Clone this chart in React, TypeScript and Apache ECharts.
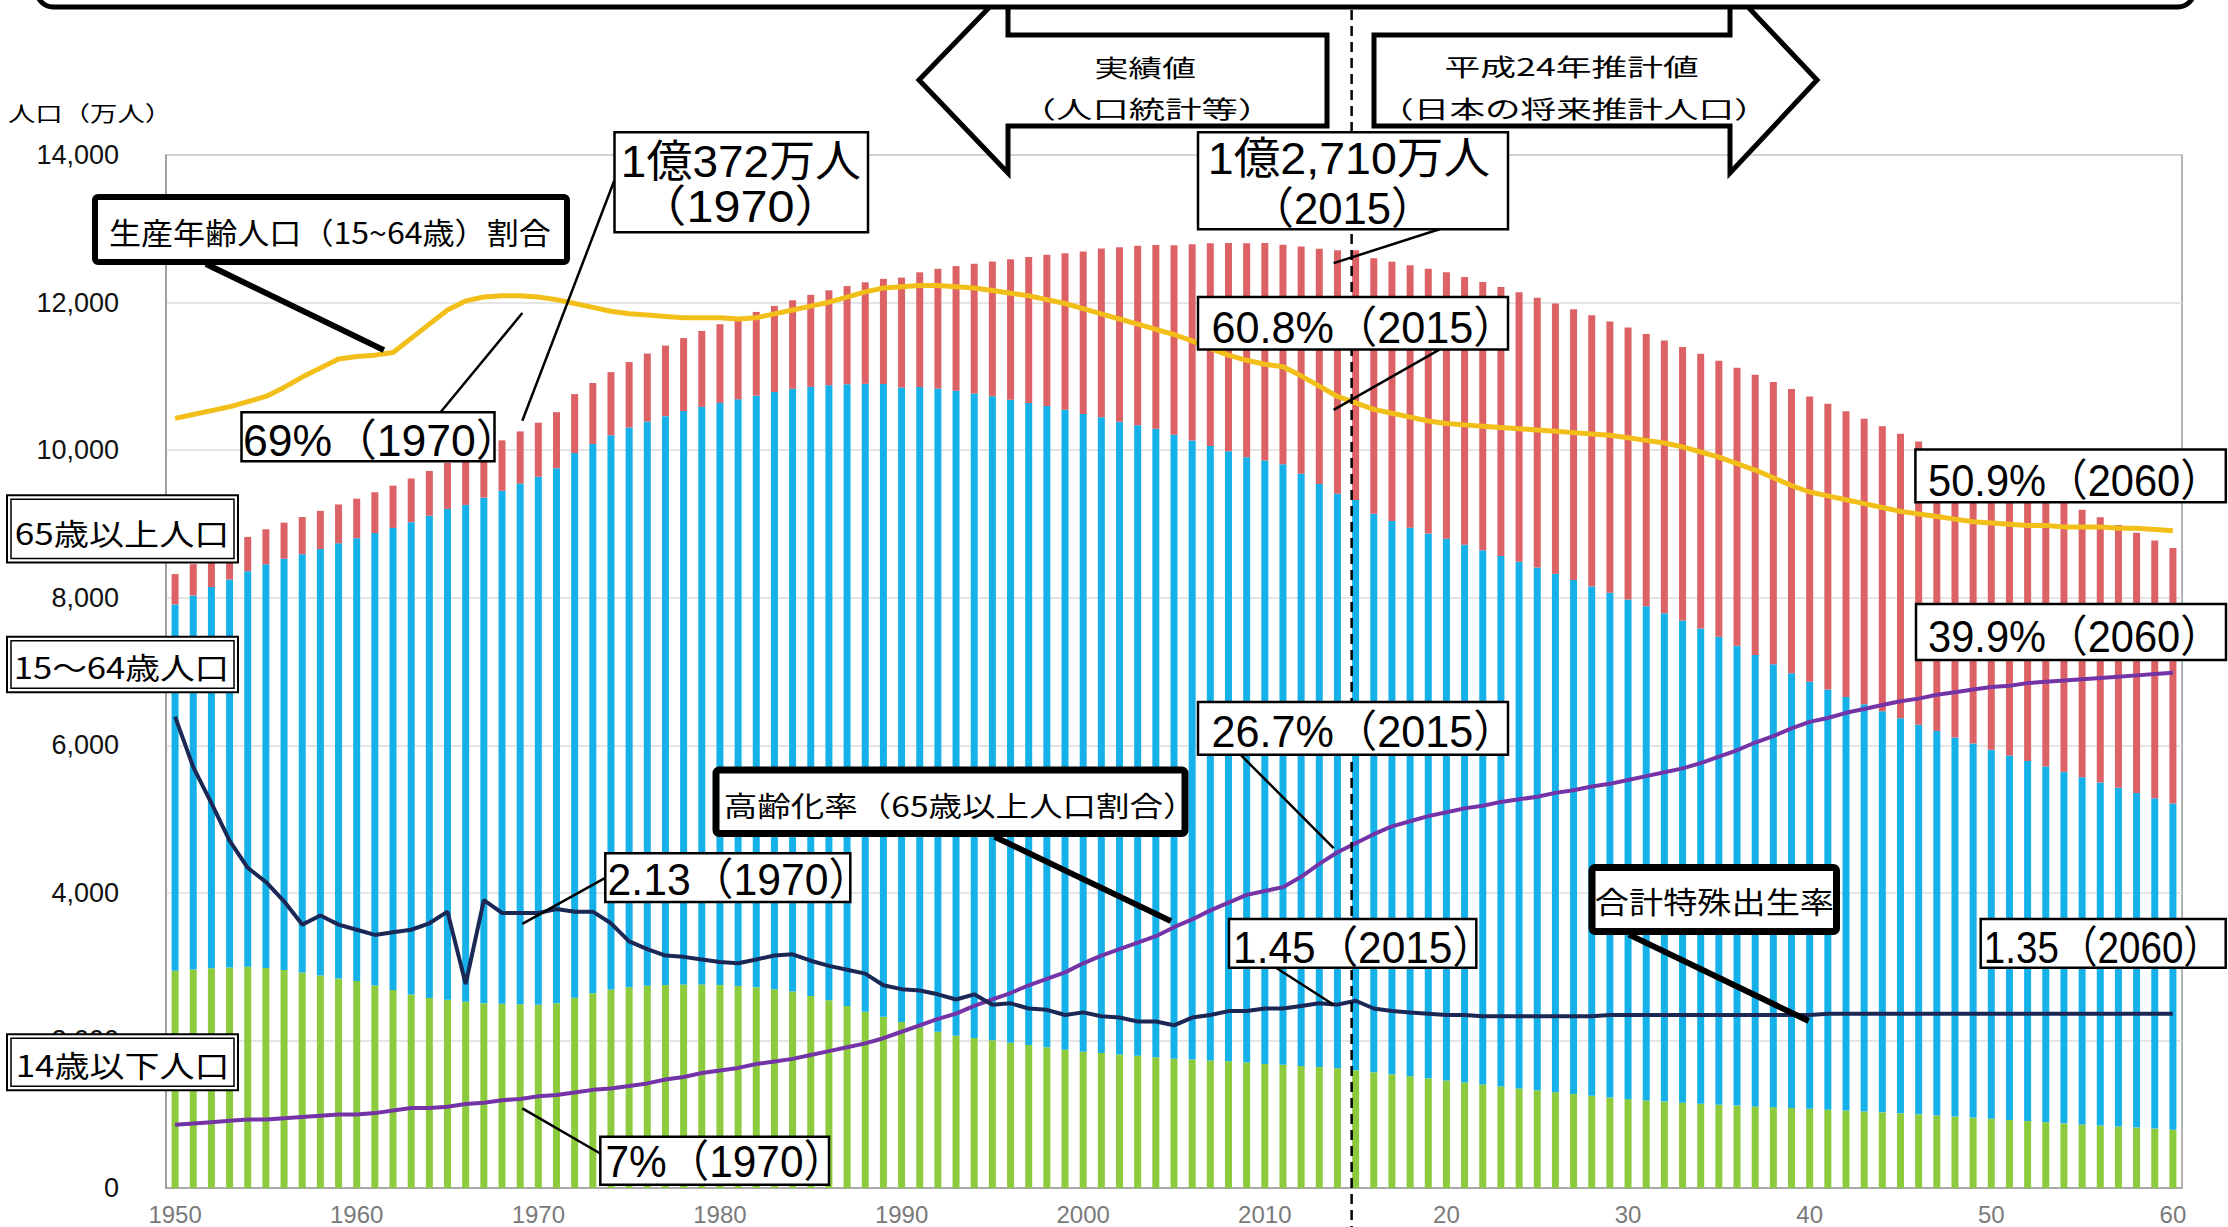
import React, { useEffect, useRef } from 'react';
import * as echarts from 'echarts';

// 年次（1950〜2060）
const years = [
  1950, 1951, 1952, 1953, 1954, 1955, 1956, 1957, 1958, 1959,
  1960, 1961, 1962, 1963, 1964, 1965, 1966, 1967, 1968, 1969,
  1970, 1971, 1972, 1973, 1974, 1975, 1976, 1977, 1978, 1979,
  1980, 1981, 1982, 1983, 1984, 1985, 1986, 1987, 1988, 1989,
  1990, 1991, 1992, 1993, 1994, 1995, 1996, 1997, 1998, 1999,
  2000, 2001, 2002, 2003, 2004, 2005, 2006, 2007, 2008, 2009,
  2010, 2011, 2012, 2013, 2014, 2015, 2016, 2017, 2018, 2019,
  2020, 2021, 2022, 2023, 2024, 2025, 2026, 2027, 2028, 2029,
  2030, 2031, 2032, 2033, 2034, 2035, 2036, 2037, 2038, 2039,
  2040, 2041, 2042, 2043, 2044, 2045, 2046, 2047, 2048, 2049,
  2050, 2051, 2052, 2053, 2054, 2055, 2056, 2057, 2058, 2059,
  2060,
];

// 14歳以下人口（万人）
const under15 = [
  2943, 2962, 2977, 2990, 3000, 2980, 2955, 2920, 2880, 2840,
  2807, 2745, 2683, 2622, 2574, 2553, 2524, 2505, 2498, 2492,
  2482, 2503, 2580, 2640, 2690, 2722, 2742, 2752, 2759, 2758,
  2751, 2739, 2720, 2695, 2662, 2603, 2543, 2467, 2387, 2320,
  2249, 2180, 2118, 2063, 2033, 2001, 1969, 1937, 1906, 1874,
  1847, 1828, 1810, 1791, 1773, 1752, 1743, 1729, 1718, 1701,
  1680, 1670, 1655, 1639, 1623, 1595, 1568, 1542, 1515, 1487,
  1457, 1430, 1403, 1376, 1350, 1324, 1298, 1273, 1249, 1226,
  1204, 1187, 1171, 1156, 1142, 1129, 1117, 1106, 1095, 1084,
  1073, 1061, 1049, 1037, 1025, 1012, 998, 983, 968, 954,
  939, 923, 907, 892, 876, 861, 847, 833, 819, 805,
  791,
];

// 15〜64歳人口（万人）
const working = [
  4966, 5068, 5167, 5257, 5359, 5473, 5573, 5670, 5780, 5897,
  6000, 6132, 6263, 6402, 6537, 6651, 6734, 6851, 6951, 7055,
  7157, 7253, 7380, 7444, 7512, 7585, 7646, 7709, 7770, 7829,
  7890, 7950, 8018, 8092, 8170, 8255, 8336, 8426, 8512, 8577,
  8600, 8675, 8717, 8741, 8735, 8730, 8715, 8703, 8692, 8674,
  8642, 8617, 8576, 8547, 8518, 8458, 8387, 8328, 8268, 8201,
  8178, 8138, 8025, 7901, 7785, 7728, 7571, 7497, 7434, 7383,
  7341, 7289, 7239, 7189, 7138, 7085, 7028, 6967, 6904, 6840,
  6773, 6698, 6619, 6534, 6441, 6342, 6233, 6119, 6004, 5891,
  5787, 5694, 5606, 5520, 5435, 5353, 5279, 5209, 5139, 5069,
  5001, 4940, 4881, 4822, 4764, 4706, 4648, 4591, 4533, 4476,
  4419,
];

// 65歳以上人口（万人）
const elderly = [
  411, 424, 437, 451, 465, 475, 489, 503, 517, 527,
  535, 552, 572, 592, 607, 624, 646, 664, 684, 707,
  733, 759, 800, 826, 855, 887, 921, 956, 990, 1029,
  1065, 1101, 1135, 1167, 1199, 1247, 1287, 1331, 1376, 1424,
  1489, 1555, 1622, 1690, 1759, 1826, 1902, 1976, 2051, 2119,
  2204, 2287, 2363, 2431, 2488, 2567, 2660, 2746, 2822, 2901,
  2948, 2975, 3079, 3190, 3300, 3387, 3461, 3515, 3558, 3589,
  3612, 3627, 3637, 3645, 3651, 3657, 3662, 3668, 3674, 3679,
  3685, 3690, 3697, 3707, 3722, 3741, 3768, 3797, 3826, 3852,
  3868, 3873, 3872, 3868, 3863, 3856, 3841, 3823, 3805, 3787,
  3768, 3742, 3714, 3685, 3656, 3626, 3594, 3561, 3529, 3496,
  3464,
];

// 生産年齢人口（15〜64歳）割合（%）
const workingShare = [
  59.6, 59.9, 60.2, 60.5, 60.9, 61.3, 62.0, 62.8, 63.5, 64.2,
  64.4, 64.5, 64.7, 65.8, 66.9, 68.0, 68.7, 69.0, 69.1, 69.1,
  69.0, 68.8, 68.5, 68.2, 67.9, 67.7, 67.6, 67.5, 67.4, 67.4,
  67.4, 67.3, 67.4, 67.7, 68.0, 68.3, 68.6, 69.0, 69.4, 69.7,
  69.8, 69.9, 69.9, 69.8, 69.7, 69.5, 69.3, 69.1, 68.8, 68.5,
  68.1, 67.7, 67.3, 66.9, 66.5, 66.1, 65.6, 65.0, 64.5, 64.1,
  63.8, 63.6, 62.9, 62.1, 61.3, 60.8, 60.3, 60.0, 59.7, 59.4,
  59.2, 59.1, 59.0, 58.9, 58.8, 58.7, 58.6, 58.5, 58.4, 58.3,
  58.1, 57.9, 57.7, 57.4, 57.0, 56.6, 56.1, 55.6, 55.0, 54.4,
  53.9, 53.6, 53.3, 53.0, 52.7, 52.4, 52.2, 52.0, 51.8, 51.6,
  51.5, 51.4, 51.3, 51.3, 51.2, 51.2, 51.2, 51.1, 51.1, 51.0,
  50.9,
];

// 高齢化率（65歳以上人口割合, %）
const agingRate = [
  4.9, 5.0, 5.1, 5.2, 5.3, 5.3, 5.4, 5.5, 5.6, 5.7,
  5.7, 5.8, 6.0, 6.2, 6.2, 6.3, 6.5, 6.6, 6.8, 6.9,
  7.1, 7.2, 7.4, 7.6, 7.7, 7.9, 8.1, 8.4, 8.6, 8.9,
  9.1, 9.3, 9.6, 9.8, 10.0, 10.3, 10.6, 10.9, 11.2, 11.6,
  12.1, 12.6, 13.1, 13.5, 14.1, 14.6, 15.1, 15.7, 16.2, 16.7,
  17.4, 18.0, 18.5, 19.0, 19.5, 20.2, 20.8, 21.5, 22.1, 22.7,
  23.0, 23.3, 24.1, 25.1, 26.0, 26.7, 27.4, 28.0, 28.4, 28.8,
  29.1, 29.4, 29.6, 29.9, 30.1, 30.3, 30.6, 30.8, 31.1, 31.3,
  31.6, 31.9, 32.2, 32.5, 32.9, 33.4, 33.9, 34.5, 35.0, 35.6,
  36.1, 36.4, 36.8, 37.1, 37.4, 37.7, 37.9, 38.2, 38.4, 38.6,
  38.8, 38.9, 39.1, 39.2, 39.3, 39.4, 39.5, 39.6, 39.7, 39.8,
  39.9,
];

// 合計特殊出生率
const fertility = [
  3.65, 3.26, 2.98, 2.69, 2.48, 2.37, 2.22, 2.04, 2.11, 2.04,
  2.00, 1.96, 1.98, 2.00, 2.05, 2.14, 1.58, 2.23, 2.13, 2.13,
  2.13, 2.16, 2.14, 2.14, 2.05, 1.91, 1.85, 1.80, 1.79, 1.77,
  1.75, 1.74, 1.77, 1.80, 1.81, 1.76, 1.72, 1.69, 1.66, 1.57,
  1.54, 1.53, 1.50, 1.46, 1.50, 1.42, 1.43, 1.39, 1.38, 1.34,
  1.36, 1.33, 1.32, 1.29, 1.29, 1.26, 1.32, 1.34, 1.37, 1.37,
  1.39, 1.39, 1.41, 1.43, 1.42, 1.45, 1.39, 1.37, 1.36, 1.35,
  1.34, 1.34, 1.33, 1.33, 1.33, 1.33, 1.33, 1.33, 1.33, 1.34,
  1.34, 1.34, 1.34, 1.34, 1.34, 1.34, 1.34, 1.34, 1.34, 1.34,
  1.34, 1.35, 1.35, 1.35, 1.35, 1.35, 1.35, 1.35, 1.35, 1.35,
  1.35, 1.35, 1.35, 1.35, 1.35, 1.35, 1.35, 1.35, 1.35, 1.35,
  1.35,
];

const categories = years.map(String);
const at = (arr: number[], year: number) => arr[years.indexOf(year)];

const FONT_NUM = '"Liberation Sans Narrow", "Liberation Sans", "Noto Sans CJK JP", sans-serif';
const FONT_JP = '"Noto Sans CJK JP", "Noto Sans", sans-serif';
const FONT_AXIS = '"Liberation Sans", Arial, sans-serif';

// Right-most x a text's advance box may reach.
const TEXT_LIMIT = 2222;

type TextSpec = { text: string; left: number; right: number; cy: number; size: number; family: string };

// Fits a text element so that its inked extent spans [left, right] and is centred on cy.
function fittedText(t: TextSpec, ctx: CanvasRenderingContext2D) {
  ctx.font = `${t.size}px ${t.family}`;
  ctx.textAlign = 'left';
  ctx.textBaseline = 'middle';
  const m = ctx.measureText(t.text);
  const ink = m.actualBoundingBoxLeft + m.actualBoundingBoxRight;
  let s = ink > 0 ? (t.right - t.left) / ink : 1;
  // keep the full advance box (incl. trailing blank of a closing bracket) on the page
  const reach = m.actualBoundingBoxLeft + m.width;
  if (t.left + reach * s > TEXT_LIMIT) s = (TEXT_LIMIT - t.left) / reach;
  const x = t.left + m.actualBoundingBoxLeft * s;
  const off = (m.actualBoundingBoxDescent - m.actualBoundingBoxAscent) / 2;
  return {
    type: 'text',
    x,
    y: t.cy - off,
    scaleX: s,
    z: 130,
    style: {
      text: t.text,
      fontSize: t.size,
      fontFamily: t.family,
      fill: '#000',
      align: 'left',
      verticalAlign: 'middle',
      textAlign: 'left',
      textVerticalAlign: 'middle',
    },
  };
}

function box(x: number, y: number, w: number, h: number, lw: number, r = 0) {
  return {
    type: 'rect',
    z: 120,
    shape: { x, y, width: w, height: h, r },
    style: { fill: '#fff', stroke: '#000', lineWidth: lw },
  };
}

function doubleBox(x: number, y: number, w: number, h: number) {
  return [
    box(x, y, w, h, 2),
    { type: 'rect', z: 121, shape: { x: x + 4, y: y + 4, width: w - 8, height: h - 8 }, style: { fill: 'none', stroke: '#000', lineWidth: 1.5 } },
  ];
}

function leader(x1: number, y1: number, x2: number, y2: number, lw: number) {
  return { type: 'line', z: 119, shape: { x1, y1, x2, y2 }, style: { stroke: '#000', lineWidth: lw, lineCap: 'butt' } };
}

export default function App() {
  const ref = useRef<HTMLDivElement>(null);

  useEffect(() => {
    document.body.style.margin = '0';
    if (!ref.current) return;
    const chart = echarts.init(ref.current, null, { renderer: 'svg' });

    chart.setOption({
      animation: false,
      backgroundColor: '#fff',
      grid: {
        left: 166, right: 46, top: 155, bottom: 39,
        show: true, borderColor: '#9a9a9a', borderWidth: 1.5,
        containLabel: false, outerBoundsMode: 'none',
      },
      xAxis: {
        type: 'category',
        data: categories,
        boundaryGap: true,
        axisLine: { lineStyle: { color: '#9a9a9a', width: 1.5 } },
        axisTick: { show: false },
        axisLabel: {
          interval: 9,
          margin: 14,
          fontSize: 24,
          fontFamily: FONT_AXIS,
          color: '#7a7a7a',
          formatter: (v: string) => (Number(v) >= 2020 ? v.slice(2) : v),
        },
      },
      yAxis: [
        {
          type: 'value', min: 0, max: 14000, interval: 2000,
          axisLine: { show: true, lineStyle: { color: '#9a9a9a', width: 1.5 } },
          axisTick: { show: false },
          axisLabel: {
            margin: 47, fontSize: 27, fontFamily: FONT_AXIS, color: '#111',
            formatter: (v: number) => v.toLocaleString('en-US'),
          },
          splitLine: { lineStyle: { color: '#dcdcdc', width: 1.5 } },
        },
        { type: 'value', min: 0, max: 80, show: false, splitLine: { show: false } },
        { type: 'value', min: 0, max: 8, show: false, splitLine: { show: false } },
      ],
      series: [
        { name: '14歳以下人口', type: 'bar', stack: 'pop', data: under15, barWidth: 7, itemStyle: { color: '#8dcb3e' } },
        { name: '15〜64歳人口', type: 'bar', stack: 'pop', data: working, barWidth: 7, itemStyle: { color: '#16b1e8' } },
        { name: '65歳以上人口', type: 'bar', stack: 'pop', data: elderly, barWidth: 7, itemStyle: { color: '#dd6266' } },
        {
          name: '生産年齢人口割合', type: 'line', yAxisIndex: 1, data: workingShare, symbol: 'none', z: 5,
          lineStyle: { color: '#f2bf1a', width: 5 },
        },
        {
          name: '高齢化率', type: 'line', yAxisIndex: 1, data: agingRate, symbol: 'none', z: 6,
          lineStyle: { color: '#7434a8', width: 4 },
        },
        {
          name: '合計特殊出生率', type: 'line', yAxisIndex: 2, data: fertility, symbol: 'none', z: 6,
          lineStyle: { color: '#1b2856', width: 4 },
        },
      ],
    });

    const pt = (axis: number, year: number, value: number) =>
      chart.convertToPixel({ xAxisIndex: 0, yAxisIndex: axis }, [years.indexOf(year), value]) as number[];

    const total = (y: number) => at(under15, y) + at(working, y) + at(elderly, y);
    const p1970Total = pt(0, 1970, total(1970));
    const p2015Total = pt(0, 2015, total(2015));
    const pWs1961 = pt(1, 1961, at(workingShare, 1961));
    const pWs1970 = pt(1, 1970, at(workingShare, 1970));
    const pWs2015 = pt(1, 2015, at(workingShare, 2015));
    const pAr1970 = pt(1, 1970, at(agingRate, 1970));
    const pAr2005 = pt(1, 2005, at(agingRate, 2005));
    const pAr2015 = pt(1, 2015, at(agingRate, 2015));
    const pTf1970 = pt(2, 1970, at(fertility, 1970));
    const pTf2015 = pt(2, 2015, at(fertility, 2015));
    const pTf2040 = pt(2, 2040, at(fertility, 2040));

    const ctx = document.createElement('canvas').getContext('2d') as CanvasRenderingContext2D;
    const T = (text: string, left: number, right: number, cy: number, size: number, family: string) =>
      fittedText({ text, left, right, cy, size, family }, ctx);

    const divideX = p2015Total[0] - 4;

    const elements: any[] = [
      // 実績値 / 推計値 の境界
      { type: 'line', z: 50, shape: { x1: divideX, y1: 10, x2: divideX, y2: 1227 }, style: { stroke: '#000', lineWidth: 2.5, lineDash: [10, 6] } },

      // 左向き矢印（実績値）
      {
        type: 'polygon', z: 115,
        shape: { points: [[919, 80], [1008, -12], [1008, 35], [1327, 35], [1327, 126], [1008, 126], [1008, 173]] },
        style: { fill: '#fff', stroke: '#000', lineWidth: 5, lineJoin: 'miter' },
      },
      // 右向き矢印（推計値）
      {
        type: 'polygon', z: 115,
        shape: { points: [[1374, 35], [1730, 35], [1730, -12], [1817, 80], [1730, 173], [1730, 126], [1374, 126]] },
        style: { fill: '#fff', stroke: '#000', lineWidth: 5, lineJoin: 'miter' },
      },
      // 上部の枠
      { type: 'rect', z: 125, shape: { x: 37, y: -60, width: 2157, height: 67, r: 16 }, style: { fill: '#fff', stroke: '#000', lineWidth: 5 } },

      T('実績値', 1096, 1196, 66, 24, FONT_JP),
      T('（人口統計等）', 1044, 1250, 107.5, 24, FONT_JP),
      T('平成24年推計値', 1446, 1699, 66, 24, FONT_JP),
      T('（日本の将来推計人口）', 1402, 1746, 107.5, 24, FONT_JP),

      T('人口（万人）', 8, 154, 112.5, 21, FONT_JP),

      // 生産年齢人口割合
      box(95, 197, 472, 65, 6, 3),
      leader(206, 264, pWs1961[0] + 9, pWs1961[1] - 5, 6),
      T('生産年齢人口（15~64歳）割合', 110, 551, 231, 30, FONT_JP),

      box(241.5, 412.3, 253, 49, 2.5),
      leader(440.5, 412.3, pWs1970[0] - 16, pWs1970[1] + 16, 2.5),
      T('69%（1970）', 245, 490, 436, 44, FONT_NUM),

      box(614.5, 132.3, 253.5, 100, 2.5),
      leader(614.5, 180, p1970Total[0] - 16, p1970Total[1] - 2, 2.5),
      T('1億372万人', 624, 860, 156.5, 44, FONT_NUM),
      T('（1970）', 671, 810, 202, 44, FONT_NUM),

      box(1198, 132.3, 310, 97, 2.5),
      leader(1439.4, 229.3, p2015Total[0] - 22, p2015Total[1] + 13, 2.5),
      T('1億2,710万人', 1211, 1489, 155, 44, FONT_NUM),
      T('（2015）', 1280, 1405, 203.5, 44, FONT_NUM),

      box(1198, 297, 310, 52.6, 2.5),
      leader(1439.4, 349.6, pWs2015[0] - 22, pWs2015[1] + 7, 2.5),
      T('60.8%（2015）', 1213.5, 1487, 323, 44, FONT_NUM),

      box(1915.4, 449.5, 310.4, 52.8, 2.5),
      T('50.9%（2060）', 1929, 2199, 476, 44, FONT_NUM),

      box(1916, 604, 310, 56, 2.5),
      T('39.9%（2060）', 1929, 2199, 632, 44, FONT_NUM),

      ...doubleBox(7, 495.3, 231, 67.3),
      T('65歳以上人口', 16, 226, 532.5, 30, FONT_JP),
      ...doubleBox(7, 636.7, 231, 55.5),
      T('15～64歳人口', 16, 226, 665.5, 30, FONT_JP),
      ...doubleBox(7, 1034.3, 231, 56),
      T('14歳以下人口', 18, 226, 1064.5, 30, FONT_JP),

      box(716, 770, 469, 63.5, 7, 3),
      leader(994.6, 836.8, pAr2005[0] - 3, pAr2005[1] - 6, 6),
      T('高齢化率（65歳以上人口割合）', 725, 1174, 804.5, 28, FONT_JP),

      box(1198, 702, 310, 52.7, 2.5),
      leader(1240.5, 754.7, pAr2015[0] - 22, pAr2015[1] + 5, 2.5),
      T('26.7%（2015）', 1213.5, 1487, 727.5, 44, FONT_NUM),

      box(605.3, 853.3, 245, 48.8, 2.5),
      leader(605.3, 877.9, pTf1970[0] - 16, pTf1970[1] + 11, 2.5),
      T('2.13（1970）', 609.5, 842, 875, 44, FONT_NUM),

      box(600.3, 1136.7, 228.7, 48, 2.5),
      leader(600.3, 1153.5, pAr1970[0] - 16, pAr1970[1] + 12, 2.5),
      T('7%（1970）', 607.4, 817, 1157, 44, FONT_NUM),

      box(1229, 919, 247.3, 48.8, 2.5),
      leader(1276, 967.8, pTf2015[0] - 22, pTf2015[1] + 4, 2.5),
      T('1.45（2015）', 1236, 1466, 943, 44, FONT_NUM),

      box(1592, 867.5, 244.5, 64, 7, 3),
      leader(1629, 934.6, pTf2040[0] - 1, pTf2040[1] + 6, 6),
      T('合計特殊出生率', 1596, 1833, 900, 30, FONT_JP),

      box(1980.7, 919, 245, 48.8, 2.5),
      T('1.35（2060）', 1986.5, 2218.5, 943, 44, FONT_NUM),
    ];

    chart.setOption({ graphic: { elements } });

    return () => chart.dispose();
  }, []);

  return (
    <div
      ref={ref}
      style={{ position: 'absolute', left: 0, top: 0, width: 2228, height: 1227 }}
    />
  );
}
